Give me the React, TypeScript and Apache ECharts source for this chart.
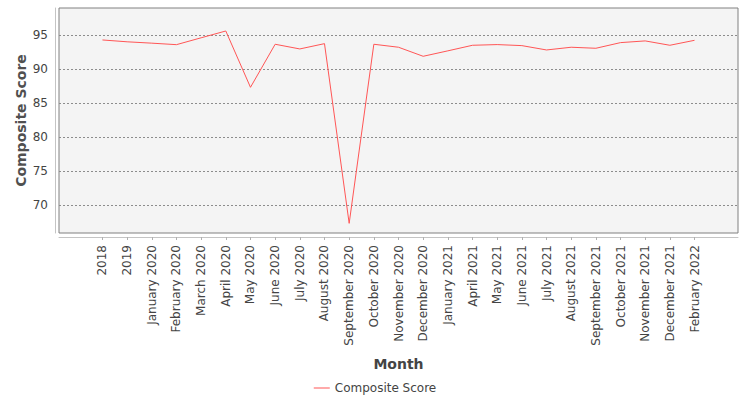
import React, { useEffect, useRef } from "react";
import * as echarts from "echarts";

const months: string[] = [
  "2018", "2019", "January 2020", "February 2020", "March 2020", "April 2020",
  "May 2020", "June 2020", "July 2020", "August 2020", "September 2020",
  "October 2020", "November 2020", "December 2020", "January 2021", "April 2021",
  "May 2021", "June 2021", "July 2021", "August 2021", "September 2021",
  "October 2021", "November 2021", "December 2021", "February 2022",
];

const compositeScore: number[] = [
  94.31, 94.04, 93.84, 93.62, 94.63, 95.63, 87.35, 93.68, 92.99, 93.77,
  67.35, 93.68, 93.24, 91.91, 92.71, 93.53, 93.63, 93.48, 92.84, 93.24,
  93.09, 93.92, 94.17, 93.53, 94.26,
];

const yTickValues: number[] = [70, 75, 80, 85, 90, 95];

const seriesName = "Composite Score";
const xAxisName = "Month";
const yAxisName = "Composite Score";

const FONT = "DejaVu Sans";
const TEXT = "#444444";

export default function App() {
  const ref = useRef<HTMLDivElement>(null);

  useEffect(() => {
    if (!ref.current) return;
    const chart = echarts.init(ref.current, undefined, { renderer: "svg" });
    const indices = months.map((_, i) => i);
    chart.setOption({
      animation: false,
      backgroundColor: "#ffffff",
      textStyle: { fontFamily: FONT },
      grid: {
        left: 59,
        right: 12,
        top: 8,
        bottom: 167,
        show: true,
        backgroundColor: "#f4f4f4",
        borderColor: "#808080",
        borderWidth: 1,
        containLabel: false,
        outerBoundsMode: "none",
      },
      legend: {
        show: true,
        data: [{ name: seriesName, icon: "rect" }],
        left: "center",
        top: 382,
        padding: 0,
        itemWidth: 16,
        itemHeight: 1,
        itemGap: 4,
        textStyle: { fontFamily: FONT, fontSize: 12, color: TEXT },
      },
      xAxis: {
        type: "value",
        min: -1.7615,
        max: 25.7615,
        offset: 4,
        name: xAxisName,
        nameLocation: "middle",
        nameGap: 120,
        nameMoveOverlap: false,
        nameTextStyle: { fontFamily: FONT, fontSize: 14, fontWeight: "bold", color: TEXT },
        axisLine: { show: true, onZero: false, lineStyle: { color: "#c4c4c4", width: 1 } },
        axisTick: {
          show: true,
          length: 3,
          customValues: indices,
          lineStyle: { color: "#b0b0b0", width: 1 },
        },
        axisLabel: {
          show: true,
          customValues: indices,
          rotate: 90,
          margin: 8,
          fontFamily: FONT,
          fontSize: 12,
          color: TEXT,
          formatter: (v: number) => {
            const i = Math.round(v);
            return Math.abs(v - i) < 1e-6 && months[i] !== undefined ? months[i] : "";
          },
        },
        splitLine: { show: false },
      },
      yAxis: {
        type: "value",
        min: 65.93,
        max: 99.01,
        offset: 4,
        name: yAxisName,
        nameLocation: "middle",
        nameGap: 27,
        nameMoveOverlap: false,
        nameTextStyle: { fontFamily: FONT, fontSize: 14, fontWeight: "bold", color: "#505050" },
        axisLine: { show: true, onZero: false, lineStyle: { color: "#c4c4c4", width: 1 } },
        axisTick: { show: false, customValues: yTickValues },
        axisLabel: {
          show: true,
          customValues: yTickValues,
          margin: 7,
          fontFamily: FONT,
          fontSize: 12,
          color: TEXT,
          formatter: (v: number) => (yTickValues.includes(v) ? String(v) : ""),
        },
        splitLine: {
          show: true,
          lineStyle: { color: "#8c8c8c", width: 1, type: [2, 2] },
        },
      },
      series: [
        {
          name: seriesName,
          type: "line",
          data: compositeScore.map((v, i) => [i, v]),
          symbol: "none",
          showSymbol: false,
          lineStyle: { color: "#ff5555", width: 1 },
          itemStyle: { color: "#ff5555" },
        },
      ],
    });
    return () => chart.dispose();
  }, []);

  return (
    <div
      ref={ref}
      style={{ position: "fixed", left: 0, top: 0, width: 750, height: 400, background: "#ffffff" }}
    />
  );
}
